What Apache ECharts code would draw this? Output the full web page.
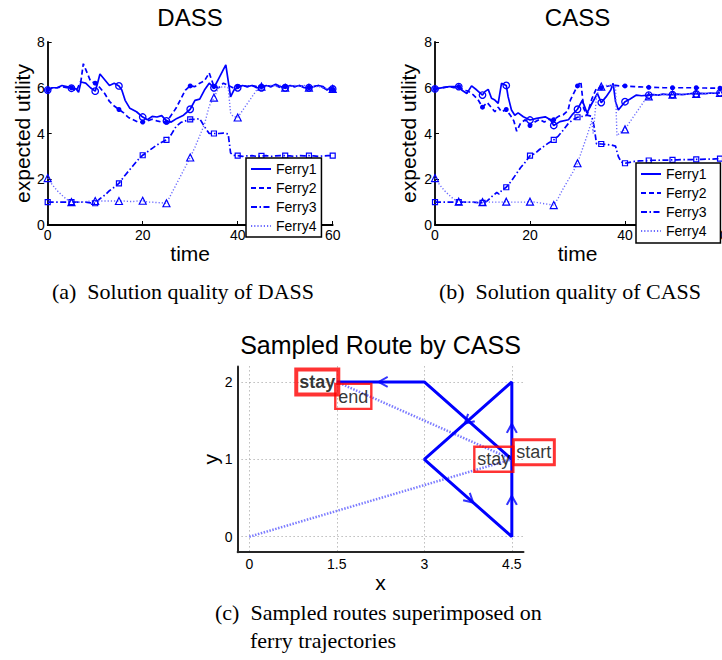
<!DOCTYPE html>
<html><head><meta charset="utf-8">
<script src="https://cdn.jsdelivr.net/npm/echarts@6/dist/echarts.min.js"></script>
<style>html,body{margin:0;padding:0;background:#fff}#c{width:722px;height:660px}</style>
</head><body><div id="c"></div>
<script>
// ---------------- data ----------------
const legendNames = ['Ferry1', 'Ferry2', 'Ferry3', 'Ferry4'];
const panelTitles = ['DASS', 'CASS', 'Sampled Route by CASS'];
const captionA = '(a)\u2002Solution quality of DASS';
const captionB = '(b)\u2002Solution quality of CASS';
const captionC1 = '(c)\u2002Sampled routes superimposed on';
const captionC2 = 'ferry trajectories';
const timeTicks = [0, 20, 40, 60];
const utilityTicks = [0, 2, 4, 6, 8];

const dassFerry1 = [[0,5.9],[1,6.0],[2,6.0],[3,6.1],[4,6.05],[5,5.98],[6,5.95],[6.5,5.8],[7,6.25],[8,6.2],[9,6.0],[10,5.85],[10.5,6.2],[11,6.6],[12,6.35],[13,6.1],[14,6.2],[15,6.08],[15.6,5.9],[16.3,5.45],[17.3,5.1],[18.7,4.95],[20,4.72],[21,4.6],[22,4.75],[23,4.72],[24,4.78],[25,4.55],[26,4.5],[27.2,4.66],[28.6,4.8],[30,5.06],[31,5.45],[32,5.5],[33,5.9],[34,6.2],[35,6.0],[36,6.4],[37,6.8],[37.5,7.0],[38,6.3],[38.5,5.6],[39.2,5.9],[40,6.0],[41,6.1],[42,6.05],[43,6.1],[44,6.0],[45,6.0],[46,6.1],[47,6.05],[48,6.15],[49,6.05],[50,6.0],[51,6.1],[52,6.05],[53,6.1],[54,6.0],[55,6.0],[56,6.05],[57,6.1],[58,6.05],[58.8,5.9],[59.4,6.0],[60,5.95]];
const dassFerry2 = [[0,5.9],[1,6.0],[2,6.0],[3,6.05],[4,6.0],[5,6.0],[6,5.85],[7,6.3],[7.5,7.05],[8,6.8],[9,6.3],[10,6.2],[11,6.0],[12,5.75],[13,5.4],[14,5.2],[15,5.05],[16,4.9],[17,4.7],[18,4.6],[19,4.5],[20,4.5],[21,4.55],[22,4.62],[23,4.55],[24,4.5],[25,4.5],[26,4.8],[27,5.1],[28,5.5],[29,5.9],[30,6.08],[31,6.05],[32,6.2],[33,6.3],[34,6.65],[35,6.05],[36,6.0],[37,6.2],[38,6.1],[39,6.0],[40,6.05],[41,6.1],[42,6.05],[43,6.1],[44,6.05],[45,6.05],[46,6.1],[47,6.05],[48,6.1],[49,6.0],[50,6.05],[51,6.1],[52,6.05],[53,6.1],[54,6.05],[55,6.0],[56,6.05],[57,6.1],[58,6.0],[59,5.9],[60,5.92]];
const dassFerry3 = [[0,1.0],[1,1.0],[2,1.0],[3,1.0],[4,1.0],[5,1.0],[6,1.0],[7,1.0],[8,1.0],[9,0.97],[10,0.95],[11,1.15],[12,1.3],[13,1.5],[14,1.65],[15,1.82],[16,2.1],[17,2.35],[18,2.6],[19,2.85],[20,3.05],[21,3.2],[22,3.35],[23,3.5],[24,3.62],[25,3.72],[26,3.95],[27,4.3],[28,4.48],[29,4.55],[30,4.62],[31,4.62],[32,4.65],[33,4.3],[34,4.0],[35,4.0],[36,4.0],[37,4.02],[38,3.98],[38.5,3.15],[39,3.05],[40,3.03],[41,3.0],[42,3.02],[43,3.03],[44,3.0],[45,3.02],[46,3.03],[47,3.0],[48,3.02],[49,3.03],[50,3.03],[51,3.02],[52,3.0],[53,3.03],[54,3.02],[55,3.03],[56,3.02],[57,3.0],[58,3.02],[59,3.03],[60,3.03]];
const dassFerry4 = [[0,2.05],[1,1.75],[2,1.5],[3,1.3],[4,1.12],[5,1.0],[6,1.0],[7,1.0],[8,1.02],[9,1.05],[10,1.05],[11,1.05],[12,1.05],[13,1.05],[14,1.05],[15,1.05],[16,1.05],[17,1.03],[18,1.03],[19,1.05],[20,1.06],[21,1.0],[22,1.0],[23,0.98],[24,0.97],[25,0.95],[26,1.35],[27,1.75],[28,2.15],[29,2.55],[30,2.95],[31,3.4],[32,3.9],[33,4.4],[34,5.2],[35,5.57],[36,6.0],[37,6.05],[38,6.0],[38.5,4.9],[39,4.75],[40,4.7],[41,5.0],[42,5.3],[43,5.6],[44,5.9],[45,6.05],[46,6.05],[47,6.1],[48,6.05],[49,6.1],[50,6.0],[51,6.05],[52,6.1],[53,6.05],[54,6.1],[55,6.0],[56,6.05],[57,6.05],[58,6.0],[59,5.95],[60,5.95]];

const cassFerry1 = [[0,5.95],[1,5.98],[2,6.02],[3,6.05],[4,6.05],[5,6.05],[5.6,5.9],[6.7,5.75],[7.7,6.08],[8.8,5.9],[10,5.68],[10.5,5.83],[11.2,5.93],[11.9,5.54],[12.6,5.46],[13.3,5.32],[14,6.19],[15,6.1],[15.4,5.6],[16.1,5.03],[16.8,4.8],[17.5,4.9],[18.6,4.73],[20,4.59],[21.4,4.66],[23.2,4.73],[24.3,4.6],[25,4.35],[26.3,4.52],[28.1,4.6],[29,4.85],[30,5.06],[31,5.45],[32,4.9],[33,5.3],[34.2,5.75],[35,5.35],[36,5.6],[37,5.9],[37.5,6.19],[38,5.4],[38.6,5.03],[40,5.39],[41,5.5],[42.4,5.68],[43.5,5.65],[45,5.68],[46,5.7],[47,5.68],[48,5.72],[49,5.7],[50,5.7],[51,5.72],[52,5.7],[53,5.72],[54,5.75],[55,5.73],[56,5.75],[57,5.74],[58,5.77],[59,5.76],[60,5.78]];
const cassFerry2 = [[0,5.95],[1,5.98],[2,6.02],[3,6.05],[4,6.0],[5,6.05],[6,5.9],[7,5.85],[8,5.7],[9,5.5],[10,5.15],[11,5.35],[12,5.1],[12.6,4.95],[13.3,5.15],[14,4.95],[15,5.05],[16,4.75],[16.6,4.55],[17.2,4.1],[18,4.45],[19,4.6],[20,4.35],[21,4.5],[22,4.62],[23,4.5],[24,4.62],[25,4.6],[26,4.75],[27,4.82],[28,5.0],[28.5,5.46],[29.3,5.8],[30,6.08],[30.7,6.27],[31.3,5.1],[32,4.8],[33,5.5],[34,5.98],[35,6.0],[36,6.05],[37,6.1],[38,6.1],[39,6.08],[40,6.08],[41,6.06],[42,6.05],[43,6.04],[44,6.03],[45,6.02],[46,6.02],[47,6.01],[48,6.0],[49,6.0],[50,6.0],[51,6.0],[52,6.0],[53,6.0],[54,6.0],[55,6.0],[56,5.99],[57,5.99],[58,5.98],[59,5.98],[60,5.98]];
const cassFerry3 = [[0,1.0],[1,1.0],[2,1.0],[3,1.0],[4,1.0],[5,1.0],[6,1.0],[7,1.0],[8,1.0],[9,0.98],[10,0.97],[11,1.05],[12,1.25],[13,1.42],[13.5,1.35],[14,1.5],[15,1.65],[16,1.9],[17,2.2],[18,2.5],[19,2.75],[20,3.03],[21,3.12],[22,3.3],[23,3.45],[24,3.6],[25,3.72],[26,3.9],[27,4.15],[28,4.42],[29,4.6],[30,4.71],[31,4.75],[32,4.8],[33,4.75],[33.5,4.3],[34,3.55],[35,3.54],[36,3.52],[37,3.5],[38,3.45],[38.6,2.99],[39.2,2.75],[40,2.7],[41,2.74],[42,2.78],[43,2.8],[44,2.81],[45,2.82],[46,2.83],[47,2.83],[48,2.84],[49,2.84],[50,2.85],[51,2.85],[52,2.86],[53,2.86],[54,2.86],[55,2.87],[56,2.87],[57,2.88],[58,2.88],[59,2.89],[60,2.9]];
const cassFerry4 = [[0,2.05],[1,1.75],[2,1.5],[3,1.3],[4,1.12],[5,1.02],[6,1.0],[7,1.0],[8,1.0],[9,1.0],[10,1.0],[11,1.0],[12,1.0],[13,1.0],[14,1.0],[15,1.02],[16,1.0],[17,1.0],[18,1.0],[19,1.0],[20,1.02],[21,1.0],[22,0.97],[23,0.93],[24,0.9],[25,0.87],[26,1.2],[27,1.6],[28,1.95],[29,2.3],[30,2.7],[31,3.3],[32,3.9],[33,4.55],[33.3,4.0],[34,5.6],[34.6,6.0],[35,6.05],[36,6.1],[37,6.1],[38,6.05],[38.3,3.9],[39,4.05],[40,4.18],[41,4.5],[42,4.8],[43,5.1],[44,5.4],[45,5.62],[46,5.68],[47,5.68],[48,5.7],[49,5.7],[50,5.7],[51,5.71],[52,5.72],[53,5.72],[54,5.73],[55,5.73],[56,5.74],[57,5.75],[58,5.76],[59,5.77],[60,5.78]];

const routeXTicks = [0, 1.5, 3, 4.5];
const routeYTicks = [0, 1, 2];
const routePath = [[4.5,1],[4.5,2],[3,1],[4.5,0],[4.5,1],[3,2],[1.5,2]];
const trajectoryA = [[0,0],[4.5,1]];
const trajectoryB = [[1.5,2],[4.5,1]];
const arrowSegments = [0, 1, 2, 3, 5];
const arrowFractions = [0.4, 0.5, 0.52, 0.47, 0.47];
const labelTexts = ['stay', 'end', 'stay', 'start'];
const labelPoints = [[1.5,2],[1.5,2],[4.5,1],[4.5,1]];

// ---------------- styling ----------------
const FONT = 'Liberation Sans, Arial, Helvetica, sans-serif';
const SERIF = 'Liberation Serif, Times New Roman, serif';
const BLUE = '#0000ff';
const lineStyles = [
  {type: 'solid', width: 1.7, color: BLUE},
  {type: [5, 3], width: 1.7, color: BLUE},
  {type: [6, 2.5, 1.5, 2.5], width: 1.7, color: BLUE},
  {type: [1.2, 2], width: 1.4, color: '#6a6aff'}
];
const markers = [
  {symbol: 'circle', size: 6.5, fill: 'rgba(0,0,0,0)', bw: 1.3},
  {symbol: 'circle', size: 5, fill: BLUE, bw: 0},
  {symbol: 'rect', size: 5, fill: 'rgba(0,0,0,0)', bw: 1.2},
  {symbol: 'triangle', size: 7, fill: 'rgba(0,0,0,0)', bw: 1.2}
];

const grids = [
  {left: 47.7, top: 42, width: 285, height: 183, outerBoundsMode: 'none'},
  {left: 435, top: 42, width: 285, height: 183, outerBoundsMode: 'none'},
  {left: 237.6, top: 366.4, width: 285.9, height: 185.8, outerBoundsMode: 'none'}
];
const rX = [-0.2, 4.7], rY = [-0.2, 2.2];

function timeAxis(g) {
  return {gridIndex: g, type: 'value', min: timeTicks[0], max: timeTicks[timeTicks.length-1], interval: timeTicks[1]-timeTicks[0],
    name: 'time', nameLocation: 'middle', nameGap: 18,
    nameTextStyle: {fontSize: 21, color: '#000', fontFamily: FONT},
    axisLine: {onZero: false, lineStyle: {color: '#000', width: 1.8}},
    axisTick: {inside: true, length: 4, lineStyle: {color: '#000', width: 1}},
    axisLabel: {fontSize: 14, color: '#000', margin: 3, fontFamily: FONT},
    splitLine: {show: false}};
}
function utilAxis(g, gap) {
  return {gridIndex: g, type: 'value', min: utilityTicks[0], max: utilityTicks[utilityTicks.length-1], interval: utilityTicks[1]-utilityTicks[0],
    name: 'expected utility', nameLocation: 'middle', nameGap: gap,
    nameTextStyle: {fontSize: 21, color: '#000', fontFamily: FONT},
    axisLine: {show: true, onZero: false, lineStyle: {color: '#000', width: 1.8}},
    axisTick: {show: true, inside: true, length: 4, lineStyle: {color: '#000', width: 1}},
    axisLabel: {fontSize: 14, color: '#000', margin: 3, fontFamily: FONT},
    splitLine: {show: false}};
}

const series = [];
[[dassFerry1, dassFerry2, dassFerry3, dassFerry4], [cassFerry1, cassFerry2, cassFerry3, cassFerry4]].forEach((set, g) => {
  set.forEach((arr, k) => {
    series.push({type: 'line', name: legendNames[k], xAxisIndex: g, yAxisIndex: g, data: arr,
      symbol: 'none', lineStyle: lineStyles[k], itemStyle: {color: lineStyles[k].color}, z: 2, silent: true});
  });
  set.forEach((arr, k) => {
    const m = markers[k];
    series.push({type: 'scatter', name: 'marker' + g + k, xAxisIndex: g, yAxisIndex: g,
      data: arr.filter(p => p[0] % 5 === 0), symbol: m.symbol, symbolSize: m.size,
      itemStyle: {color: m.fill, borderColor: BLUE, borderWidth: m.bw, opacity: 1}, z: 3, silent: true});
  });
});

// route panel
const pxPerX = grids[2].width / (rX[1] - rX[0]);
const pxPerY = grids[2].height / (rY[1] - rY[0]);
series.push({type: 'line', name: 'trajA', xAxisIndex: 2, yAxisIndex: 2, data: trajectoryA, symbol: 'none',
  lineStyle: {color: '#7c7cff', width: 2.5, type: [1.5, 1.5]}, z: 2, silent: true});
series.push({type: 'line', name: 'trajB', xAxisIndex: 2, yAxisIndex: 2, data: trajectoryB, symbol: 'none',
  lineStyle: {color: '#7c7cff', width: 2.5, type: [1.5, 1.5]}, z: 2, silent: true});
series.push({type: 'line', name: 'route', xAxisIndex: 2, yAxisIndex: 2, data: routePath, symbol: 'none',
  lineStyle: {color: BLUE, width: 3}, z: 4, silent: true});
const arrowData = arrowSegments.map((s, i) => {
  const a = routePath[s], b = routePath[s + 1], f = arrowFractions[i];
  const ang = Math.atan2((b[1] - a[1]) * pxPerY, (b[0] - a[0]) * pxPerX) * 180 / Math.PI;
  return {value: [a[0] + f * (b[0] - a[0]), a[1] + f * (b[1] - a[1])], symbolRotate: ang};
});
series.push({type: 'scatter', name: 'arrows', xAxisIndex: 2, yAxisIndex: 2, data: arrowData,
  symbol: 'path://M0,0L10,5L0,10', symbolSize: [9, 10],
  itemStyle: {color: 'rgba(0,0,0,0)', borderColor: BLUE, borderWidth: 2}, z: 5, silent: true});
const labelStyles = [
  {position: [2, 0.5], align: 'right', verticalAlign: 'middle', fontWeight: 'bold', borderWidth: 2},
  {position: [-1, 2.5], align: 'left', verticalAlign: 'top', fontWeight: 'normal', borderWidth: 1.2},
  {position: [2, 0.5], align: 'right', verticalAlign: 'middle', fontWeight: 'normal', borderWidth: 1.2},
  {position: [2, -6.5], align: 'left', verticalAlign: 'middle', fontWeight: 'normal', borderWidth: 1.5}
];
series.push({type: 'scatter', name: 'boxes', xAxisIndex: 2, yAxisIndex: 2, symbolSize: 1, z: 6, silent: true,
  itemStyle: {color: 'rgba(0,0,0,0)'},
  data: labelPoints.map((p, i) => ({value: p, label: Object.assign({show: true, formatter: labelTexts[i],
    fontSize: 18, lineHeight: 20, fontFamily: FONT, color: '#000', padding: [3, 3, 2, 3],
    borderColor: '#ff0000', backgroundColor: 'rgba(0,0,0,0)'}, labelStyles[i])}))
});

const legendBase = {data: legendNames, orient: 'vertical', itemWidth: 20, itemHeight: 14, itemGap: 5,
  backgroundColor: '#fff', borderColor: '#000', borderWidth: 1.5, borderRadius: 0, selectedMode: false,
  textStyle: {fontSize: 14, color: '#000', fontFamily: FONT},
  itemStyle: {color: 'rgba(0,0,0,0)', borderWidth: 0, borderColor: 'rgba(0,0,0,0)'}};

const option = {
  animation: false,
  backgroundColor: '#fff',
  grid: grids,
  legend: [
    Object.assign({}, legendBase, {left: 246, top: 158, padding: [4, 5, 4, 4]}),
    Object.assign({}, legendBase, {left: 636, top: 163, padding: [4, 14, 5, 4]})
  ],
  xAxis: [timeAxis(0), timeAxis(1), {
    gridIndex: 2, type: 'value', min: rX[0], max: rX[1], name: 'x', nameLocation: 'middle', nameGap: 18,
    nameTextStyle: {fontSize: 21, color: '#000', fontFamily: FONT},
    axisLine: {onZero: false, lineStyle: {color: '#262626', width: 2}},
    axisTick: {show: false, customValues: routeXTicks},
    axisLabel: {customValues: routeXTicks, fontSize: 14, color: '#000', margin: 5, fontFamily: FONT},
    splitLine: {show: true, lineStyle: {color: '#9a9a9a', type: [1, 3], width: 1}}
  }],
  yAxis: [utilAxis(0, 14), utilAxis(1, 16), {
    gridIndex: 2, type: 'value', min: rY[0], max: rY[1], name: 'y', nameLocation: 'middle', nameGap: 13,
    nameTextStyle: {fontSize: 21, color: '#000', fontFamily: FONT},
    axisLine: {show: true, onZero: false, lineStyle: {color: '#262626', width: 2}},
    axisTick: {show: false, customValues: routeYTicks},
    axisLabel: {customValues: routeYTicks, fontSize: 14, color: '#000', margin: 5, fontFamily: FONT},
    splitLine: {show: true, lineStyle: {color: '#9a9a9a', type: [1, 3], width: 1}}
  }],
  graphic: [
    {type: 'text', x: 190, y: 17.6, style: {text: panelTitles[0], fontSize: 24, fontFamily: FONT, fill: '#000', align: 'center', verticalAlign: 'middle'}},
    {type: 'text', x: 577.5, y: 17.6, style: {text: panelTitles[1], fontSize: 24, fontFamily: FONT, fill: '#000', align: 'center', verticalAlign: 'middle'}},
    {type: 'text', x: 380.5, y: 344.5, style: {text: panelTitles[2], fontSize: 25, fontFamily: FONT, fill: '#000', align: 'center', verticalAlign: 'middle'}},
    {type: 'text', x: 183, y: 291, style: {text: captionA, fontSize: 22, fontFamily: SERIF, fill: '#000', align: 'center', verticalAlign: 'middle'}},
    {type: 'text', x: 570, y: 291, style: {text: captionB, fontSize: 22, fontFamily: SERIF, fill: '#000', align: 'center', verticalAlign: 'middle'}},
    {type: 'text', x: 215, y: 612, style: {text: captionC1, fontSize: 22, fontFamily: SERIF, fill: '#000', align: 'left', verticalAlign: 'middle'}},
    {type: 'text', x: 250, y: 640, style: {text: captionC2, fontSize: 22, fontFamily: SERIF, fill: '#000', align: 'left', verticalAlign: 'middle'}}
  ],
  series: series
};

const chart = echarts.init(document.getElementById('c'), null, {renderer: 'svg'});
chart.setOption(option);
</script>
</body></html>
